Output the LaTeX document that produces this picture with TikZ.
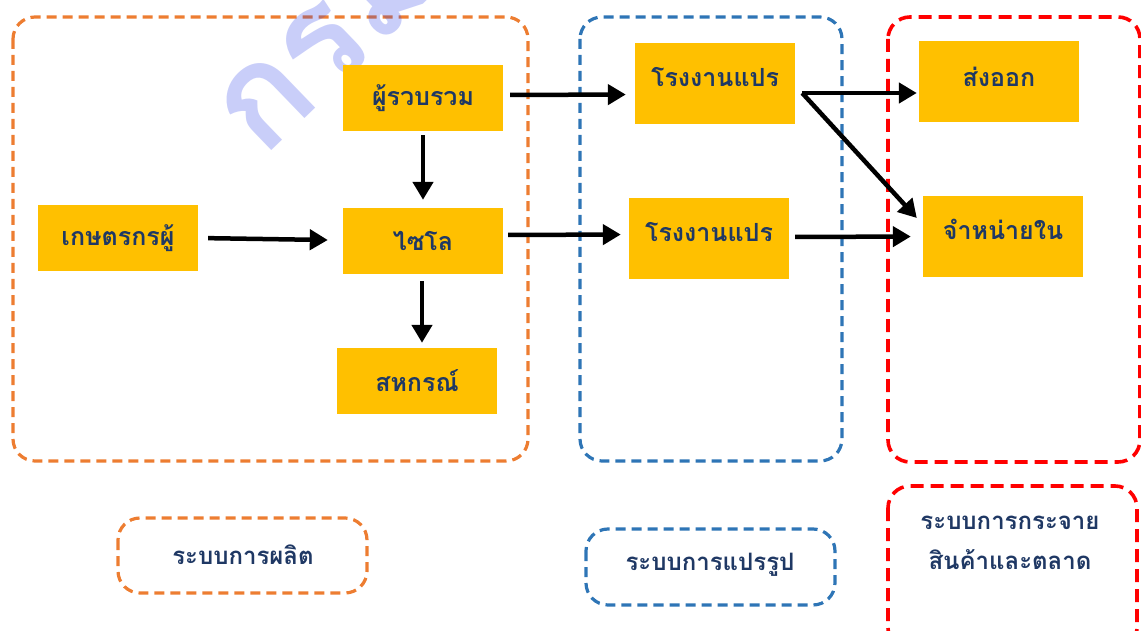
\documentclass[tikz,border=0pt]{standalone}
\usepackage{fontspec}
\newfontfamily\thai[Script=Thai]{Loma}
\usetikzlibrary{arrows.meta,calc}
\definecolor{ybox}{HTML}{FFC000}
\definecolor{navy}{HTML}{1F3864}
\definecolor{orng}{HTML}{ED7D31}
\definecolor{blu}{HTML}{2E75B6}
\definecolor{wmark}{RGB}{40,60,230}
\tikzset{
  stage/.style={rounded corners=22pt, line width=3.2pt, dash pattern=on 10pt off 6pt},
  redstage/.style={rounded corners=22pt, line width=3.6pt, dash pattern=on 13pt off 7pt, draw=red},
  yellowbox/.style={fill=ybox, draw=none, minimum width=160pt, inner sep=0pt},
  boxtext/.style={text=navy, font=\thai\bfseries\fontsize{25}{28}\selectfont, inner sep=0pt},
  captext/.style={text=navy, font=\thai\bfseries\fontsize{24}{40}\selectfont, inner sep=0pt, align=center},
  flow/.style={line width=4.5pt, -{Triangle[length=18pt,width=20pt]}},
}
\begin{document}
\begin{tikzpicture}[x=1pt,y=-1pt]
\useasboundingbox (0,0) rectangle (1141,631);

% stage frames
\draw[stage, draw=orng] (13,17) rectangle (528,461);
\draw[stage, draw=blu] (580,17) rectangle (842,461);
\draw[redstage] (888,17) rectangle (1140,462);

% caption frames
\draw[stage, draw=orng] (118,518) rectangle (367,593);
\draw[stage, draw=blu] (586,529) rectangle (835,605);
\draw[redstage] (888,486) rectangle (1137,650);

% captions
\node[captext] (c1) at (243,555) {ระบบการผลิต};
\node[captext] (c2) at (710,565) {ระบบการแปรรูป};
\node[captext] (c3) at (1010,543) {ระบบการกระจาย\\สินค้าและตลาด};

% watermark, over the frames and under the boxes
\node[rotate=44, anchor=base west, text=wmark, opacity=0.25, inner sep=0pt,
      font=\thai\bfseries\fontsize{140}{140}\selectfont] (wm) at (262,160) {กรมส่งเสริม};

% boxes
\node[yellowbox, minimum height=66pt] (farm) at (118,238) {};
\node[yellowbox, minimum height=66pt] (coll) at (423,98) {};
\node[yellowbox, minimum height=66pt] (silo) at (423,241) {};
\node[yellowbox, minimum height=66pt] (coop) at (417,381) {};
\node[yellowbox, minimum height=81pt] (fac1) at (715,83.5) {};
\node[yellowbox, minimum height=81pt] (fac2) at (709,238.5) {};
\node[yellowbox, minimum height=81pt] (expo) at (999,81.5) {};
\node[yellowbox, minimum height=81pt] (dom) at (1003,236.5) {};

% box texts
\node[boxtext] (farmt) at (farm) {เกษตรกรผู้};
\node[boxtext] (collt) at (coll) {ผู้รวบรวม};
\node[boxtext] (silot) at (silo) {ไซโล};
\node[boxtext] (coopt) at (coop) {สหกรณ์};
\node[boxtext] (fac1t) at ($(fac1)+(0,-6)$) {โรงงานแปร};
\node[boxtext] (fac2t) at ($(fac2)+(0,-6)$) {โรงงานแปร};
\node[boxtext] (expot) at ($(expo)+(0,-5)$) {ส่งออก};
\node[boxtext] (domt) at ($(dom)+(0,-7)$) {จำหน่ายใน};

% connectors
\draw[flow, shorten <=10pt, shorten >=-1pt] (farm.east) -- ($(silo.west)+(-16,-1)$);
\draw[flow, shorten <=4pt, shorten >=8pt] (coll.south) -- (silo.north);
\draw[flow, shorten <=7pt, shorten >=5pt] ($(silo.south)+(-1,0)$) -- ($(coop.north)+(5,0)$);
\draw[flow, shorten <=7pt, shorten >=9pt] ($(coll.east)+(0,-3)$) -- ($(fac1.west)+(0,11)$);
\draw[flow, shorten <=5pt, shorten >=8pt] ($(silo.east)+(0,-6)$) -- ($(fac2.west)+(0,-4)$);
\coordinate (split) at ($(fac1.east)+(7,9.5)$);
\draw[flow, shorten >=2pt] (split) -- ($(expo.west)+(0,11.5)$);
\draw[flow] (split) -- ($(dom.west)+(-6,-18.5)$);
\draw[flow, shorten <=6pt, shorten >=12pt] ($(fac2.east)+(0,-1.5)$) -- ($(dom.west)+(0,0)$);
\end{tikzpicture}
\end{document}
